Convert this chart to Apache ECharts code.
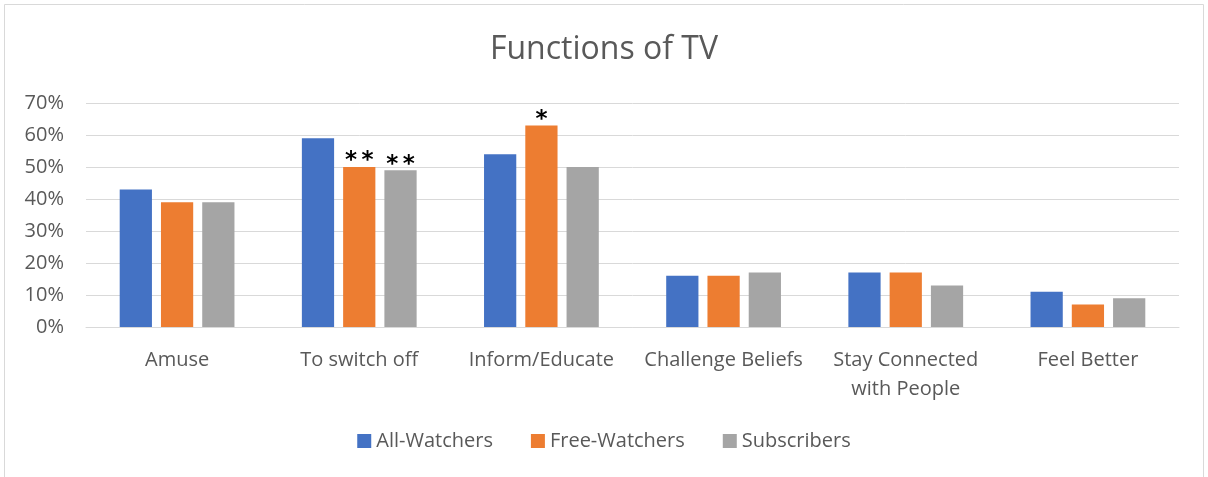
<!DOCTYPE html>
<html><head><meta charset="utf-8">
<script src="https://cdn.jsdelivr.net/npm/echarts@6/dist/echarts.min.js"></script>
<style>html,body{margin:0;padding:0;background:#fff}#c{width:1208px;height:477px}</style>
</head><body><div id="c"></div>
<script>
const categories = ['Amuse', 'To switch off', 'Inform/Educate', 'Challenge Beliefs', 'Stay Connected\nwith People', 'Feel Better'];
const allWatchers = [43, 59, 54, 16, 17, 11];
const freeWatchers = [39, 50, 63, 16, 17, 7];
const subscribers = [39, 49, 50, 17, 13, 9];
const freeMarks = ['', '*\u2009*', '*', '', '', ''];
const subMarks = ['', '*\u2009*', '', '', '', ''];
const yTicks = [0, 10, 20, 30, 40, 50, 60, 70];

const font = '"Open Sans", sans-serif';
function withMarks(vals, marks) {
  return vals.map((v, i) => marks[i] ? {
    value: v,
    label: { show: true, position: 'top', formatter: marks[i], color: '#000', fontSize: 23, fontWeight: 'bold', distance: -6, fontFamily: 'DejaVu Sans' }
  } : v);
}
const chart = echarts.init(document.getElementById('c'), null, { renderer: 'canvas' });
chart.setOption({
  animation: false,
  graphic: [{ type: 'rect', shape: { x: 4.5, y: 4.5, width: 1199, height: 480 }, style: { fill: 'none', stroke: '#d9d9d9', lineWidth: 1 } }],
  title: { text: 'Functions of TV', left: 'center', top: 29, textStyle: { color: '#595959', fontSize: 32, fontWeight: 'normal', fontFamily: font } },
  legend: {
    bottom: 21, left: 'center', itemWidth: 14, itemHeight: 14, itemGap: 38, icon: 'rect',
    textStyle: { color: '#595959', fontSize: 20, fontFamily: font }
  },
  grid: { left: 86, right: 29, top: 103, height: 224 },
  xAxis: {
    type: 'category', data: categories,
    axisLine: { lineStyle: { color: '#d9d9d9' } }, axisTick: { show: false },
    axisLabel: { color: '#595959', fontSize: 20, fontFamily: font, margin: 19, lineHeight: 29, interval: 0 }
  },
  yAxis: {
    type: 'value', min: 0, max: 70, interval: 10,
    axisLabel: { color: '#595959', fontSize: 20, fontFamily: font, margin: 22, formatter: v => yTicks.includes(v) ? v + '%' : '' },
    splitLine: { lineStyle: { color: '#d9d9d9', width: 1 } },
    axisLine: { show: false }, axisTick: { show: false }
  },
  series: [
    { name: 'All-Watchers', type: 'bar', data: allWatchers, itemStyle: { color: '#4472c4' }, barGap: '28%', barCategoryGap: '37%' },
    { name: 'Free-Watchers', type: 'bar', data: withMarks(freeWatchers, freeMarks), itemStyle: { color: '#ed7d31' } },
    { name: 'Subscribers', type: 'bar', data: withMarks(subscribers, subMarks), itemStyle: { color: '#a5a5a5' } }
  ]
});
</script></body></html>
